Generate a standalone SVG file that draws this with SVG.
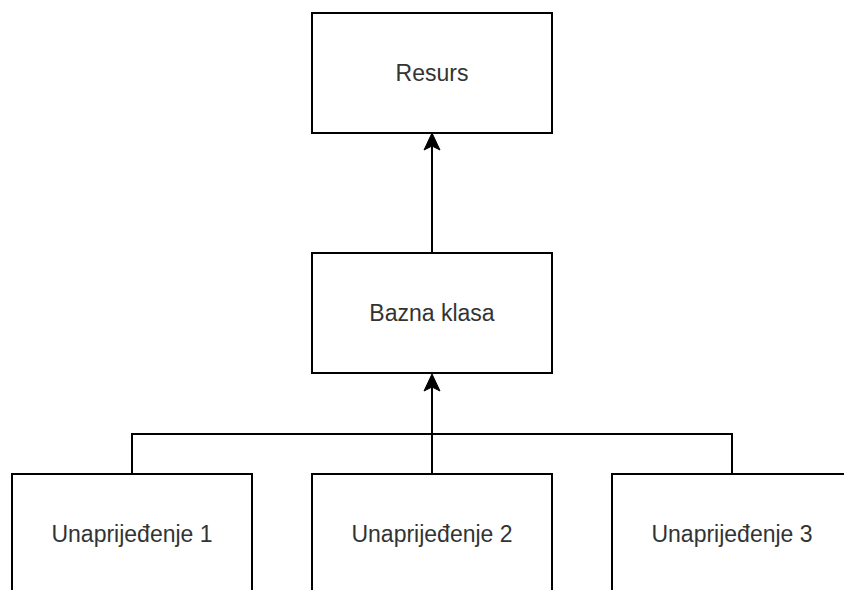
<svg xmlns="http://www.w3.org/2000/svg" width="844" height="590" viewBox="0 0 844 590">
<style>
.box{fill:#fff;stroke:#000;stroke-width:2}
.lbl{font-family:"Liberation Sans",Arial,sans-serif;font-size:23px;fill:#333;text-anchor:middle}
.edge{fill:none;stroke:#000;stroke-width:2}
.head{fill:#000;stroke:#000;stroke-width:1}
</style>
<rect width="844" height="590" fill="#fff"/>
<g id="connectors">
<path class="edge" d="M432 253 V146"/>
<path class="head" d="M432 133 L424 150 L432 146 L440 150 Z"/>
<path class="edge" d="M132 474 V434 H732 V474"/>
<path class="edge" d="M432 474 V387"/>
<path class="head" d="M432 374 L424 391 L432 387 L440 391 Z"/>
</g>
<g id="resurs">
<rect class="box" x="312" y="13" width="240" height="120"/>
<text class="lbl" x="432" y="81">Resurs</text>
</g>
<g id="bazna-klasa">
<rect class="box" x="312" y="253" width="240" height="120"/>
<text class="lbl" x="432" y="321">Bazna klasa</text>
</g>
<g id="unaprijedjenje-1">
<rect class="box" x="12" y="474" width="240" height="120"/>
<text class="lbl" x="132" y="542">Unaprijeđenje 1</text>
</g>
<g id="unaprijedjenje-2">
<rect class="box" x="312" y="474" width="240" height="120"/>
<text class="lbl" x="432" y="542">Unaprijeđenje 2</text>
</g>
<g id="unaprijedjenje-3">
<rect class="box" x="612" y="474" width="240" height="120"/>
<text class="lbl" x="732" y="542">Unaprijeđenje 3</text>
</g>
</svg>
